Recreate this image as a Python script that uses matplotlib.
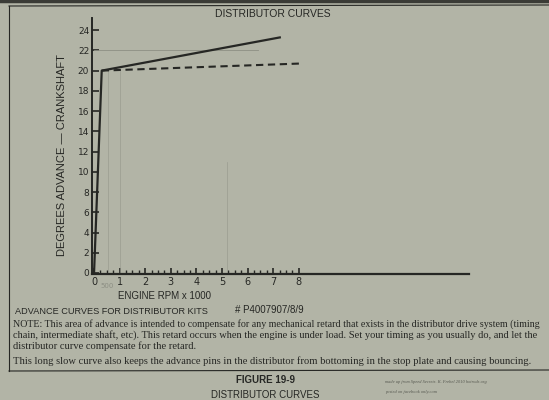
# Distributor advance curves (book page, figure 19-9)

import numpy as np
import matplotlib
matplotlib.use("Agg")
import matplotlib.pyplot as plt
from matplotlib.lines import Line2D

# Data
rpm_solid = [0.0, 0.3, 7.3]
adv_solid = [0.0, 20.0, 23.3]
rpm_dash = [0.3, 8.05]
adv_dash = [20.0, 20.7]

y_ticks = list(range(0, 25, 2))
x_ticks = list(range(0, 9))
x_minor = np.arange(0, 8.01, 0.25)

note_lines = [
    "NOTE: This area of advance is intended to compensate for any mechanical retard that exists in the distributor drive system (timing",
    "chain, intermediate shaft, etc). This retard occurs when the engine is under load. Set your timing as you usually do, and let the",
    "distributor curve compensate for the retard.",
]
last_line = "This long slow curve also keeps the advance pins in the distributor from bottoming in the stop plate and causing bouncing."

paper = "#b2b4a6"
ink = "#262724"
W, H = 549, 400

fig = plt.figure(figsize=(5.49, 4.0), dpi=100, facecolor=paper)
renderer = fig.canvas.get_renderer()

def fx(px):
    return px / W

def fy(py):
    return 1 - py / H

def fit(t, width_px):
    # scale a text so that it spans the given width in pixels
    w = t.get_window_extent(renderer).width
    t.set_fontsize(t.get_fontsize() * width_px / w)

ax = fig.add_axes([fx(92), fy(274), fx(377), 256 / H])
ax.set_facecolor(paper)
ax.set_xlim(-0.08, 14.65)
ax.set_ylim(-0.1, 25.2)

# faint guide lines on the page
ax.plot([0, 6.4], [22, 22], color="#8d8f84", lw=0.6)
ax.plot([0.55, 0.55], [0, 20], color="#9a9c90", lw=0.5)
ax.plot([1.0, 1.0], [0, 20], color="#9a9c90", lw=0.5)
ax.plot([5.2, 5.2], [0, 11], color="#9a9c90", lw=0.5)

ax.plot(rpm_solid, adv_solid, color=ink, lw=1.6, solid_capstyle="butt")
ax.plot(rpm_dash, adv_dash, color=ink, lw=1.5, ls=(0, (3.5, 2.2)))

for s in ["top", "right"]:
    ax.spines[s].set_visible(False)
ax.spines["left"].set_linewidth(1.4)
ax.spines["bottom"].set_linewidth(1.6)
ax.spines["left"].set_color(ink)
ax.spines["bottom"].set_color(ink)

ax.set_yticks(y_ticks)
ax.set_xticks(x_ticks)
ax.set_xticks(x_minor, minor=True)
ax.tick_params(axis="y", direction="in", length=5, width=1.2, colors=ink,
               labelsize=6.5, pad=2)
ax.tick_params(axis="x", which="major", direction="in", length=4, width=1.2,
               colors=ink, labelsize=7, pad=2)
ax.tick_params(axis="x", which="minor", direction="in", length=3, width=1.0,
               colors=ink)
ax.text(0.5, -1.0, "500", color="#8d8f84", fontsize=5, ha="center", va="top")

fam = ["Liberation Sans", "DejaVu Sans"]
serif = ["Liberation Serif", "DejaVu Serif"]

fig.text(fx(62), fy(155), "DEGREES ADVANCE \u2014 CRANKSHAFT", rotation=90,
         ha="center", va="center", fontsize=8, color=ink, family=fam)
fig.text(fx(165), fy(296), "ENGINE RPM x 1000", ha="center", va="center",
         fontsize=7, color=ink, family=fam)
fig.text(fx(273), fy(14), "DISTRIBUTOR CURVES", ha="center", va="center",
         fontsize=7.5, color=ink, family=fam)

fig.text(fx(15), fy(311), "ADVANCE CURVES FOR DISTRIBUTOR KITS", ha="left",
         va="center", fontsize=6.6, color=ink, family=fam)
fig.text(fx(235), fy(310), "# P4007907/8/9", ha="left", va="center",
         fontsize=7, color=ink, family=fam)

widths = [528, 529, 185]
for i, line in enumerate(note_lines):
    t = fig.text(fx(13), fy(324 + 11 * i), line, ha="left", va="center",
                 fontsize=7, color=ink, family=serif)
    fit(t, widths[i])
t = fig.text(fx(13), fy(361), last_line, ha="left", va="center",
             fontsize=7, color=ink, family=serif)
fit(t, 520)

fig.text(fx(265), fy(380), "FIGURE 19-9", ha="center", va="center",
         fontsize=7, weight="bold", color=ink, family=fam)
fig.text(fx(265), fy(395), "DISTRIBUTOR CURVES", ha="center", va="center",
         fontsize=7, color=ink, family=fam)

fig.text(fx(385), fy(382), "made up from Speed Secrets. K. Frebel 2010 hotrods.org",
         ha="left", va="center", fontsize=3.2, style="italic", color="#55574f",
         family=serif)
fig.text(fx(385), fy(392), "posted on facebook only.com", ha="left",
         va="center", fontsize=3.2, style="italic", color="#55574f",
         family=serif)

# page box and edge
fig.add_artist(Line2D([fx(9), fx(9)], [fy(6), fy(371)], color=ink, lw=0.8))
fig.add_artist(Line2D([fx(9), fx(549)], [fy(371), fy(370)], color=ink, lw=0.8))
fig.add_artist(Line2D([fx(9), fx(549)], [fy(6), fy(5)], color=ink, lw=0.8))
fig.add_artist(Line2D([0, 1], [fy(1), fy(1)], color="#3a3b36", lw=2.5))

fig.savefig("out.png", dpi=100, facecolor=paper)
